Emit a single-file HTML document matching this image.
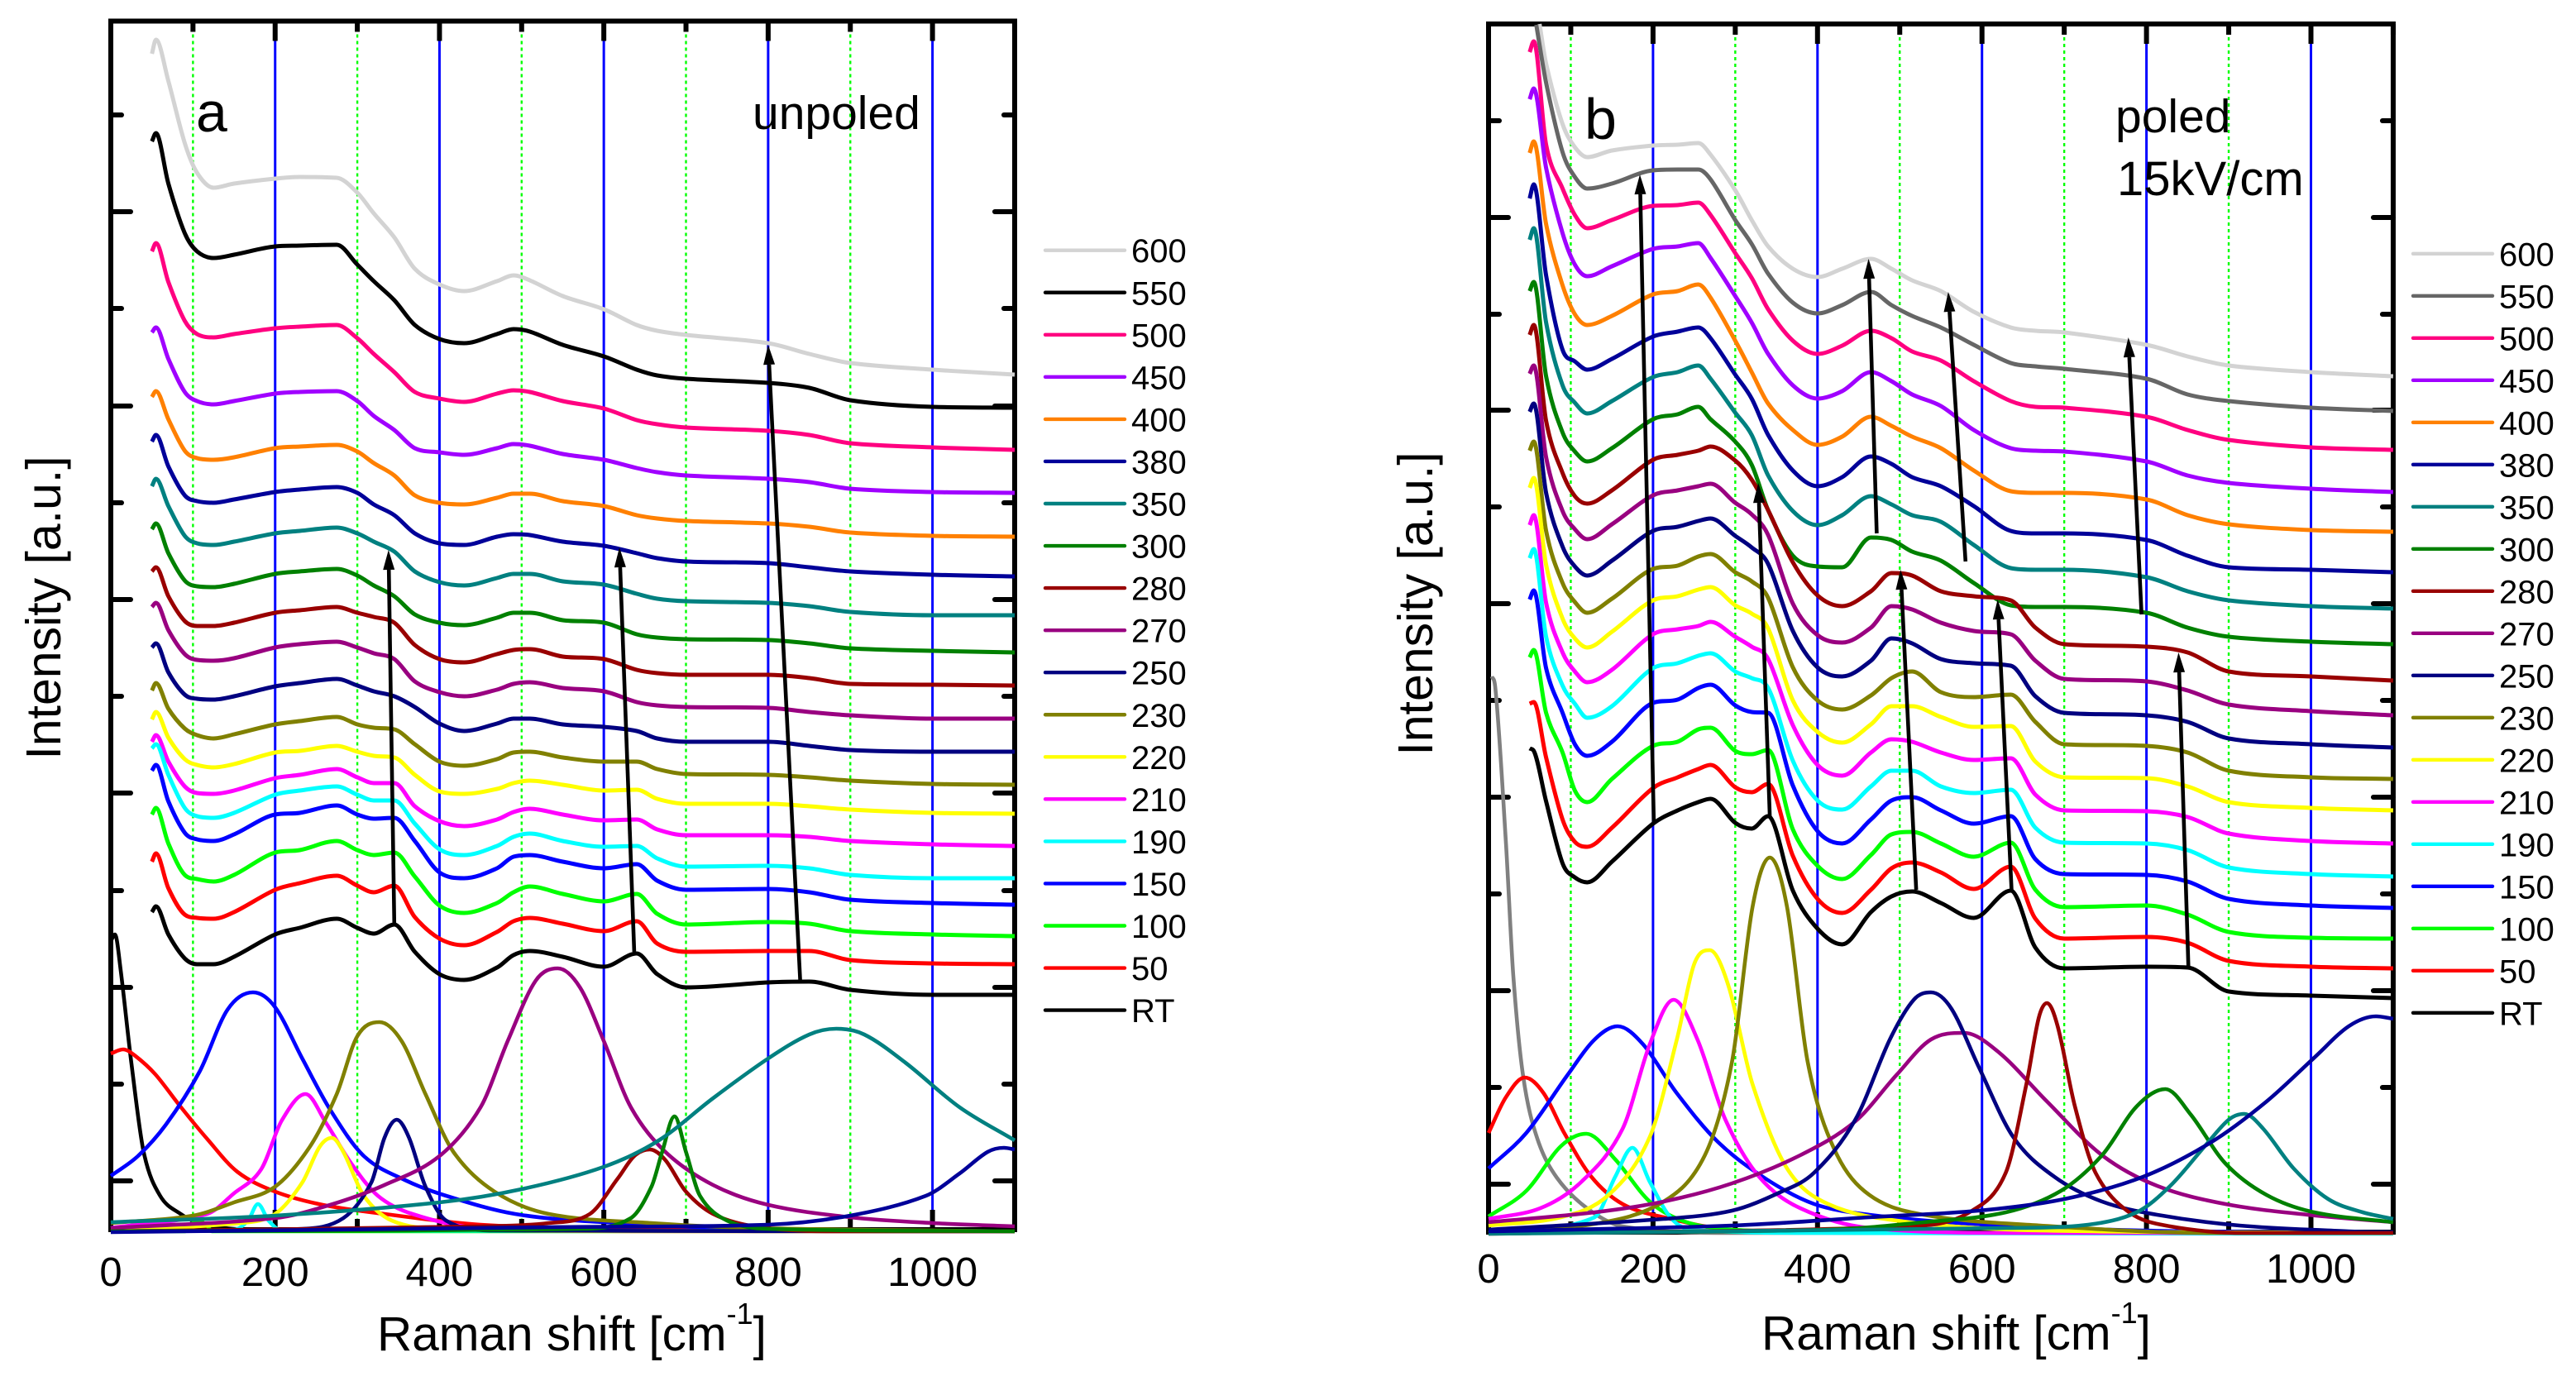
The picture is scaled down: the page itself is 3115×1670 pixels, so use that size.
<!DOCTYPE html>
<html lang="en">
<head>
<meta charset="utf-8">
<title>Raman spectra of unpoled and poled samples</title>
<style>
html,body{margin:0;padding:0;background:#fff}
svg{display:block}
text{font-family:"Liberation Sans",sans-serif;fill:#000}
</style>
</head>
<body>
<svg id="chart" xmlns="http://www.w3.org/2000/svg" width="3115" height="1670" viewBox="0 0 3115 1670">
<rect x="0" y="0" width="3115" height="1670" fill="#fff"/>
<g id="panelA"></g>
<g id="panelB"></g>
<text x="237" y="159" font-size="68">a</text>
<text x="910" y="156" font-size="57">unpoled</text>
<text x="1916" y="168" font-size="70">b</text>
<text x="2558" y="160" font-size="57">poled</text>
<text x="2560" y="236" font-size="58">15kV/cm</text>
<text x="456" y="1633" font-size="58.5">Raman shift [cm<tspan dy="-32" font-size="36">-1</tspan><tspan dy="32">]</tspan></text>
<text x="2130" y="1632" font-size="58.5">Raman shift [cm<tspan dy="-32" font-size="36">-1</tspan><tspan dy="32">]</tspan></text>
<text transform="translate(73,735) rotate(-90)" text-anchor="middle" font-size="59">Intensity [a.u.]</text>
<text transform="translate(1732,730) rotate(-90)" text-anchor="middle" font-size="59">Intensity [a.u.]</text>
</svg>
<script>
// ---------- shared axis data ----------
const xTickMajor=[0,200,400,600,800,1000];
const xTickMinor=[100,300,500,700,900,1100];
const gridBlue=[200,400,600,800,1000];
const gridGreen=[100,300,500,700,900];
const legendLabels=['600','550','500','450','400','380','350','300','280','270','250','230','220','210','190','150','100','50','RT'];
const coloursA=['#d3d3d3','#000000','#ff0080','#a000ff','#ff8000','#000099','#008080','#008000','#990000','#990080','#000080','#808000','#ffff00','#ff00ff','#00ffff','#0000ff','#00ff00','#ff0000','#000000'];
const coloursB=['#d3d3d3','#666666','#ff0080','#a000ff','#ff8000','#000099','#008080','#008000','#990000','#990080','#000080','#808000','#ffff00','#ff00ff','#00ffff','#0000ff','#00ff00','#ff0000','#000000'];

// ---------- panel a data ----------
const yTicksA=[62,179,296,413,531,648,765,882,999,1117,1234,1351];
const shiftA=[50,55,70,90,105,125,150,200,230,275,300,320,345,370,400,430,470,490,510,550,600,640,665,700,800,850,900,1000,1100];
const a600=[1425,1442,1392,1317,1281,1263,1268,1274,1276,1275,1257,1232,1203,1165,1146,1138,1150,1157,1151,1132,1116,1097,1090,1085,1075,1062,1051,1043,1037];
const a550=[1319,1329,1268,1208,1186,1178,1182,1192,1193,1194,1170,1150,1127,1097,1080,1075,1086,1092,1089,1073,1059,1043,1036,1032,1027,1021,1006,998,997];
const a500=[1186,1196,1149,1102,1086,1082,1086,1093,1095,1097,1081,1062,1040,1016,1008,1004,1014,1018,1016,1005,996,982,977,973,969,964,954,949,946];
const a450=[1088,1094,1056,1016,1005,1001,1005,1014,1016,1017,1005,987,970,948,943,940,948,953,951,941,934,924,919,915,911,907,899,895,894];
const a400=[1010,1017,983,945,936,934,937,948,950,952,944,930,915,891,882,880,888,893,893,884,878,867,863,860,857,853,846,842,841];
const a380=[956,964,926,891,884,882,886,895,898,901,894,880,867,845,833,831,841,844,843,835,830,821,815,811,809,804,799,795,793];
const a350=[902,911,878,842,833,831,835,845,848,852,845,835,823,799,786,782,791,796,796,787,783,772,766,763,761,757,750,746,746];
const a300=[850,857,821,788,781,780,784,796,799,802,794,782,769,747,737,734,743,749,749,740,737,723,719,717,716,712,706,703,701];
const a280=[799,804,769,739,733,733,737,749,752,756,749,744,737,710,693,689,699,704,705,696,693,680,676,674,674,670,663,662,661];
const a270=[756,761,728,699,692,691,694,707,711,714,707,700,693,666,653,648,656,663,665,658,654,641,637,635,634,629,625,621,621];
const a250=[707,712,677,650,645,644,648,660,664,669,661,654,648,635,615,606,615,621,621,614,611,606,597,593,593,588,583,581,581];
const a230=[655,664,633,609,601,597,602,614,618,623,614,610,608,590,569,564,572,580,581,574,569,569,560,554,553,550,546,542,541];
const a220=[620,629,598,572,565,562,566,580,582,588,581,576,574,553,533,530,536,543,546,541,534,535,524,518,518,515,511,507,506];
const a210=[593,601,569,539,531,530,534,549,553,560,550,543,543,515,497,491,499,508,512,505,498,499,487,480,480,478,473,469,467];
const a190=[585,590,553,513,503,501,507,529,534,539,529,522,522,494,463,456,467,478,482,473,466,467,452,442,443,440,432,428,428];
const a150=[558,565,521,483,475,473,481,505,507,516,505,500,501,473,435,428,440,454,456,448,440,445,425,414,415,411,402,398,396];
const a100=[505,513,470,432,427,424,432,459,462,473,462,456,459,430,395,386,398,411,418,409,400,409,385,372,375,373,364,360,358];
const a50=[448,458,416,384,380,379,387,414,422,431,419,411,419,381,355,347,363,376,380,373,364,376,349,339,340,340,329,325,324];
const aRT=[387,394,360,331,324,324,333,360,368,379,368,361,372,339,312,305,320,335,340,333,321,337,312,296,302,303,293,287,287];

// fitted peaks, panel a: [shift, intensity] pairs
const peakART=[[0,352],[5,360],[12,317],[25,205],[40,97],[60,44],[85,22],[105,12],[150,4],[300,2],[1100,1]];
const peakA50=[[0,216],[15,221],[30,213],[54,191],[83,154],[117,113],[154,73],[200,49],[258,33],[333,22],[450,9],[617,4],[1100,1]];
const peakA100=[[0,1],[90,1],[96,8],[106,14],[117,8],[123,1],[1100,1]];
const peakA150=[[0,68],[33,92],[67,130],[108,194],[142,269],[173,290],[200,272],[233,210],[267,148],[308,92],[358,63],[408,44],[492,22],[600,12],[783,4],[1100,1]];
const peakA190=[[0,1],[150,3],[167,14],[179,34],[192,14],[208,2],[1100,1]];
const peakA210=[[0,5],[117,22],[150,47],[183,76],[208,135],[237,167],[262,132],[292,84],[325,44],[367,22],[450,5],[700,1],[1100,1]];
const peakA220=[[0,2],[158,11],[200,22],[233,60],[254,103],[269,114],[283,97],[308,44],[342,14],[400,4],[700,1],[1100,1]];
const peakA230=[[0,11],[100,20],[150,36],[200,55],[242,103],[275,167],[300,237],[327,254],[354,231],[383,167],[417,97],[467,49],[533,22],[658,11],[783,5],[1100,1]];
const peakA250=[[0,1],[233,4],[283,17],[317,60],[333,114],[348,136],[363,114],[383,55],[408,14],[467,2],[1100,1]];
const peakA270=[[0,5],[200,17],[267,33],[333,57],[400,92],[450,151],[483,231],[517,304],[544,319],[571,296],[600,231],[633,151],[675,97],[733,57],[800,33],[900,18],[1000,11],[1100,7]];
const peakA280=[[0,1],[450,7],[533,11],[583,22],[617,65],[637,92],[656,100],[675,87],[700,49],[733,22],[783,7],[870,1],[1100,1]];
const peakA300=[[0,1],[575,4],[633,17],[658,55],[671,97],[686,140],[700,97],[717,44],[750,14],[800,4],[1100,1]];
const peakA350=[[0,12],[200,20],[400,36],[500,52],[600,79],[667,111],[733,162],[800,210],[850,239],[883,246],[917,239],[967,205],[1033,151],[1100,111]];
const peakA380=[[0,0],[533,6],[800,9],[900,20],[992,44],[1033,71],[1067,97],[1087,102],[1100,100]];

// arrows, panel a: [shift start, intensity start, shift tip, intensity tip]
const arrowsA=[[345,373,338,825],[637,339,619,828],[839,304,800,1073]];

// ---------- panel b data ----------
const yTicksB=[60,177,294,411,528,645,762,879,996,1112,1229,1346];
const shiftB=[50,55,70,90,105,120,150,200,230,255,270,300,320,340,370,400,430,465,490,515,550,590,635,665,700,800,850,900,1000,1100];
const shiftB600=[62,70,90,105,120,150,200,230,255,270,300,320,340,370,400,430,465,490,515,550,590,635,665,700,800,850,900,1000,1100];
const shiftB550=[58,70,90,105,120,150,200,230,255,270,300,320,340,370,400,430,465,490,515,550,590,635,665,700,800,850,900,1000,1100];
const b600=[1463,1415,1342,1314,1302,1310,1316,1317,1319,1305,1262,1226,1194,1167,1157,1167,1179,1167,1153,1140,1115,1096,1092,1090,1075,1061,1050,1042,1037];
const b550=[1462,1392,1308,1278,1264,1270,1286,1287,1287,1275,1226,1197,1161,1126,1113,1123,1139,1123,1110,1096,1075,1053,1049,1046,1034,1015,1007,999,995];
const b500=[1429,1442,1317,1264,1232,1216,1226,1243,1244,1247,1232,1186,1156,1118,1080,1064,1074,1092,1083,1067,1056,1031,1007,1000,999,988,972,960,951,948];
const b450=[1372,1385,1289,1210,1172,1158,1170,1191,1194,1198,1180,1134,1102,1064,1026,1010,1019,1042,1031,1015,1001,972,950,947,946,934,917,908,901,897];
const b400=[1307,1321,1221,1147,1112,1099,1110,1136,1140,1148,1132,1080,1042,1004,972,954,964,988,977,964,950,923,898,896,896,888,869,858,851,849];
const b380=[1252,1269,1159,1069,1055,1045,1058,1085,1091,1096,1083,1039,1010,966,923,904,915,940,931,915,904,880,850,847,847,839,820,806,803,800];
const b350=[1202,1216,1102,1026,1005,992,1007,1036,1042,1050,1034,993,966,917,874,857,869,892,882,869,861,833,805,803,803,794,777,766,759,756];
const b300=[1140,1151,1037,969,946,934,950,985,991,1000,985,958,930,875,820,807,806,842,839,825,814,787,760,758,758,751,733,722,716,713];
const b280=[1087,1099,983,920,892,883,899,936,942,947,952,935,912,875,812,772,759,777,799,796,777,771,766,733,713,710,703,680,674,669];
const b270=[1040,1050,939,874,852,840,858,893,899,904,907,884,870,845,762,724,715,733,759,755,739,729,725,693,671,668,657,640,632,627];
const b250=[994,1004,896,831,807,796,814,850,855,862,865,844,830,810,729,685,674,693,720,714,695,690,687,650,630,627,619,599,592,588];
const b230=[947,958,850,787,764,751,768,804,808,819,822,800,789,769,685,645,634,651,672,680,655,649,652,619,592,590,582,560,552,550];
const b220=[902,914,809,744,720,709,728,766,771,779,782,760,750,732,645,607,594,616,638,638,625,613,614,571,552,551,541,522,515,512];
const b210=[857,869,763,703,680,667,682,725,731,735,740,722,710,695,615,567,554,582,598,595,582,573,575,531,512,511,504,484,475,472];
const b190=[817,828,722,663,641,624,638,684,690,699,702,680,672,660,572,524,513,541,560,560,541,533,537,491,473,472,464,443,435,432];
const b150=[767,778,684,630,592,578,595,642,646,660,664,639,631,630,542,487,472,501,524,528,512,496,505,453,435,434,426,405,397,394];
const b100=[697,706,630,582,536,522,550,590,595,610,612,584,580,585,489,445,429,458,483,486,472,456,473,416,395,397,386,365,358,357];
const b50=[641,643,576,501,474,468,491,539,552,562,567,540,534,544,457,405,388,416,442,449,437,417,444,381,357,359,352,330,323,321];
const bRT=[587,584,523,448,431,425,450,496,512,522,526,497,490,505,415,369,350,389,408,414,400,382,415,346,321,323,322,293,288,285];

// fitted peaks, panel b: [shift, intensity] pairs
const peakB550=[[4,674],[8,662],[21,475],[30,314],[42,191],[59,116],[83,68],[121,30],[163,9],[296,1],[1100,1]];
const peakB50=[[0,122],[21,165],[44,189],[67,170],[92,122],[125,69],[163,36],[213,20],[296,5],[500,1],[1100,1]];
const peakB100=[[0,21],[46,52],[88,106],[119,121],[154,90],[196,39],[238,15],[296,5],[500,1],[1100,1]];
const peakB150=[[0,79],[46,122],[96,192],[129,235],[157,251],[188,229],[229,170],[279,111],[338,66],[396,36],[463,23],[588,12],[796,4],[1100,1]];
const peakB190=[[0,1],[129,20],[154,69],[175,104],[196,63],[221,20],[246,5],[400,1],[1100,0]];
const peakB210=[[0,18],[63,31],[113,63],[163,127],[196,229],[225,283],[254,235],[288,138],[329,69],[379,31],[463,7],[650,1],[1100,1]];
const peakB220=[[0,10],[88,20],[146,47],[196,117],[229,235],[250,326],[269,343],[292,299],[321,181],[363,79],[413,36],[504,15],[671,4],[1100,1]];
const peakB230=[[0,2],[129,12],[213,39],[263,95],[296,208],[321,395],[342,455],[363,395],[388,208],[421,101],[463,47],[529,23],[671,10],[880,1],[1100,1]];
const peakB270=[[0,14],[129,26],[213,39],[296,61],[379,95],[446,136],[496,192],[538,235],[578,243],[621,219],[679,160],[746,95],[813,58],[896,36],[996,23],[1100,14]];
const peakB250=[[0,5],[213,18],[296,28],[354,50],[396,74],[446,138],[488,235],[517,283],[538,292],[563,272],[596,202],[638,117],[688,69],[746,39],[813,23],[913,10],[1046,3],[1100,2]];
const peakB280=[[0,0],[529,10],[588,28],[629,74],[654,181],[669,261],[679,279],[692,251],[713,154],[738,74],[779,26],[829,9],[920,1],[1100,1]];
const peakB300=[[0,1],[413,5],[529,14],[629,26],[696,52],[746,95],[788,154],[823,175],[854,144],[896,85],[946,47],[1004,26],[1100,14]];
const peakB350=[[0,0],[629,7],[729,11],[788,26],[829,58],[871,106],[900,138],[919,145],[942,127],[979,79],[1021,42],[1063,26],[1100,18]];
const peakB380=[[0,3],[296,10],[463,20],[596,28],[700,42],[796,69],[879,111],[946,160],[1004,213],[1046,251],[1079,263],[1100,260]];

// arrows, panel b: [shift start, intensity start, shift tip, intensity tip]
const arrowsB=[[201,496,184,1281],[342,504,328,908],[520,416,501,803],[636,415,619,767],[851,322,839,703],[472,847,462,1179],[580,813,559,1139],[794,749,778,1084]];

// ---------- panel wiring ----------
const spectraA=[[shiftA,a600],[shiftA,a550],[shiftA,a500],[shiftA,a450],[shiftA,a400],[shiftA,a380],[shiftA,a350],[shiftA,a300],[shiftA,a280],[shiftA,a270],[shiftA,a250],[shiftA,a230],[shiftA,a220],[shiftA,a210],[shiftA,a190],[shiftA,a150],[shiftA,a100],[shiftA,a50],[shiftA,aRT]];
const spectraB=[[shiftB600,b600],[shiftB550,b550],[shiftB,b500],[shiftB,b450],[shiftB,b400],[shiftB,b380],[shiftB,b350],[shiftB,b300],[shiftB,b280],[shiftB,b270],[shiftB,b250],[shiftB,b230],[shiftB,b220],[shiftB,b210],[shiftB,b190],[shiftB,b150],[shiftB,b100],[shiftB,b50],[shiftB,bRT]];
const peaksA=[['RT',peakART],['50',peakA50],['100',peakA100],['150',peakA150],['190',peakA190],['210',peakA210],['220',peakA220],['230',peakA230],['250',peakA250],['270',peakA270],['280',peakA280],['300',peakA300],['350',peakA350],['380',peakA380]];
const peaksB=[['550',peakB550],['50',peakB50],['100',peakB100],['150',peakB150],['190',peakB190],['210',peakB210],['220',peakB220],['230',peakB230],['270',peakB270],['250',peakB250],['280',peakB280],['300',peakB300],['350',peakB350],['380',peakB380]];

const NS='http://www.w3.org/2000/svg';
function make(tag,attrs,parent){
  const el=document.createElementNS(NS,tag);
  for(const k in attrs){el.setAttribute(k,attrs[k]);}
  parent.appendChild(el);
  return el;
}
// smooth cubic path through data points: central-difference slopes, flat at local extrema
function smoothPath(px,py){
  const n=px.length;
  if(n<2){return '';}
  const d=[],m=[];
  for(let i=0;i<n-1;i++){d.push((py[i+1]-py[i])/(px[i+1]-px[i]));}
  m.push(d[0]);
  for(let i=1;i<n-1;i++){
    if(d[i-1]*d[i]<=0){m.push(0);}
    else{
      const c=(py[i+1]-py[i-1])/(px[i+1]-px[i-1]);
      const lim=3*Math.min(Math.abs(d[i-1]),Math.abs(d[i]));
      m.push(Math.sign(c)*Math.min(Math.abs(c),lim));
    }
  }
  m.push(d[n-2]);
  let s='M'+px[0].toFixed(1)+' '+py[0].toFixed(1);
  for(let i=0;i<n-1;i++){
    const h=(px[i+1]-px[i])/3;
    s+='C'+(px[i]+h).toFixed(1)+' '+(py[i]+m[i]*h).toFixed(1)+' '+(px[i+1]-h).toFixed(1)+' '+(py[i+1]-m[i+1]*h).toFixed(1)+' '+px[i+1].toFixed(1)+' '+py[i+1].toFixed(1);
  }
  return s;
}
function drawPanel(root,cfg){
  const xOf=r=>cfg.left+r*cfg.xScale;
  const yOf=v=>cfg.base-v;
  const right=xOf(1100);

  for(const r of cfg.gridBlue){
    const g=make('line',{x1:xOf(r),x2:xOf(r),y1:cfg.top,y2:cfg.frameBottom,stroke:'#0000ff','stroke-width':3},root);
    
    
  }
  for(const r of cfg.gridGreen){
    const g=make('line',{x1:xOf(r),x2:xOf(r),y1:cfg.top,y2:cfg.frameBottom,stroke:'#00ff00','stroke-width':2.4,'stroke-dasharray':'4 4'},root);
    
    
  }
  const frame=make('rect',{x:cfg.left,y:cfg.top,width:right-cfg.left,height:cfg.frameBottom-cfg.top,fill:'none',stroke:'#000','stroke-width':6},root);
  
  

  function xTick(r,len){
    const b=make('line',{x1:xOf(r),x2:xOf(r),y1:cfg.frameBottom,y2:cfg.frameBottom-len,stroke:'#000','stroke-width':6},root);
    
    
    const t=make('line',{x1:xOf(r),x2:xOf(r),y1:cfg.top,y2:cfg.top+len,stroke:'#000','stroke-width':6},root);
    
    
  }
  for(const r of cfg.xMajor){
    xTick(r,24);
    const lab=make('text',{x:xOf(r),y:cfg.tickBaseline,'text-anchor':'middle','font-size':49},root);
    lab.textContent=String(r);
    
    
  }
  for(const r of cfg.xMinor){xTick(r,13);}

  cfg.yTicks.forEach((v,i)=>{
    const len=i%2===0?24:13;
    const l=make('line',{x1:cfg.left,x2:cfg.left+len,y1:yOf(v),y2:yOf(v),stroke:'#000','stroke-width':6,'stroke-linecap':'round'},root);
    
    
    const r=make('line',{x1:right,x2:right-len,y1:yOf(v),y2:yOf(v),stroke:'#000','stroke-width':6,'stroke-linecap':'round'},root);
    
    
  });

  cfg.spectra.forEach((s,i)=>{
    const p=make('path',{d:smoothPath(s[0].map(xOf),s[1].map(yOf)),fill:'none',stroke:cfg.colours[i],'stroke-width':5,'stroke-linejoin':'round'},root);
    
    
  });

  cfg.peaks.forEach(pk=>{
    const idx=cfg.labels.indexOf(pk[0]);
    const p=make('path',{d:smoothPath(pk[1].map(q=>xOf(q[0])),pk[1].map(q=>yOf(q[1]))),fill:'none',stroke:idx===1?'#808080':cfg.colours[idx],'stroke-width':4.6,'stroke-linejoin':'round'},root);
    
    
  });

  cfg.arrows.forEach((a,i)=>{
    const x1=xOf(a[0]),y1=yOf(a[1]),x2=xOf(a[2]),y2=yOf(a[3]);
    const dx=x2-x1,dy=y2-y1,L=Math.hypot(dx,dy),ux=dx/L,uy=dy/L;
    const hx=x2-ux*24,hy=y2-uy*24;
    const ln=make('line',{x1:x1,y1:y1,x2:hx,y2:hy,stroke:'#000','stroke-width':4.6},root);
    
    
    const pts=[x2,y2,hx-uy*7,hy+ux*7,hx+uy*7,hy-ux*7].map(n=>n.toFixed(1)).join(' ');
    const hd=make('polygon',{points:pts,fill:'#000'},root);
    
    
  });

  cfg.labels.forEach((lab,i)=>{
    const ly=cfg.legendY+i*cfg.legendStep;
    const ln=make('line',{x1:cfg.legendX,x2:cfg.legendX+96,y1:ly,y2:ly,stroke:cfg.colours[i],'stroke-width':4.4,'stroke-linecap':'round'},root);
    
    
    const tx=make('text',{x:cfg.legendX+104,y:ly+14.5,'font-size':40},root);
    tx.textContent=lab;
    
    
  });
}
drawPanel(document.getElementById('panelA'),{left:134,xScale:0.9936,top:25.5,frameBottom:1487,base:1490,tickBaseline:1555,
  xMajor:xTickMajor,xMinor:xTickMinor,gridBlue:gridBlue,gridGreen:gridGreen,yTicks:yTicksA,labels:legendLabels,colours:coloursA,
  spectra:spectraA,peaks:peaksA,arrows:arrowsA,legendX:1264,legendY:302.7,legendStep:51.05});
drawPanel(document.getElementById('panelB'),{left:1800,xScale:0.9945,top:29,frameBottom:1490,base:1492,tickBaseline:1551,
  xMajor:xTickMajor,xMinor:xTickMinor,gridBlue:gridBlue,gridGreen:gridGreen,yTicks:yTicksB,labels:legendLabels,colours:coloursB,
  spectra:spectraB,peaks:peaksB,arrows:arrowsB,legendX:2918,legendY:306.8,legendStep:51.0});
</script>
</body>
</html>
